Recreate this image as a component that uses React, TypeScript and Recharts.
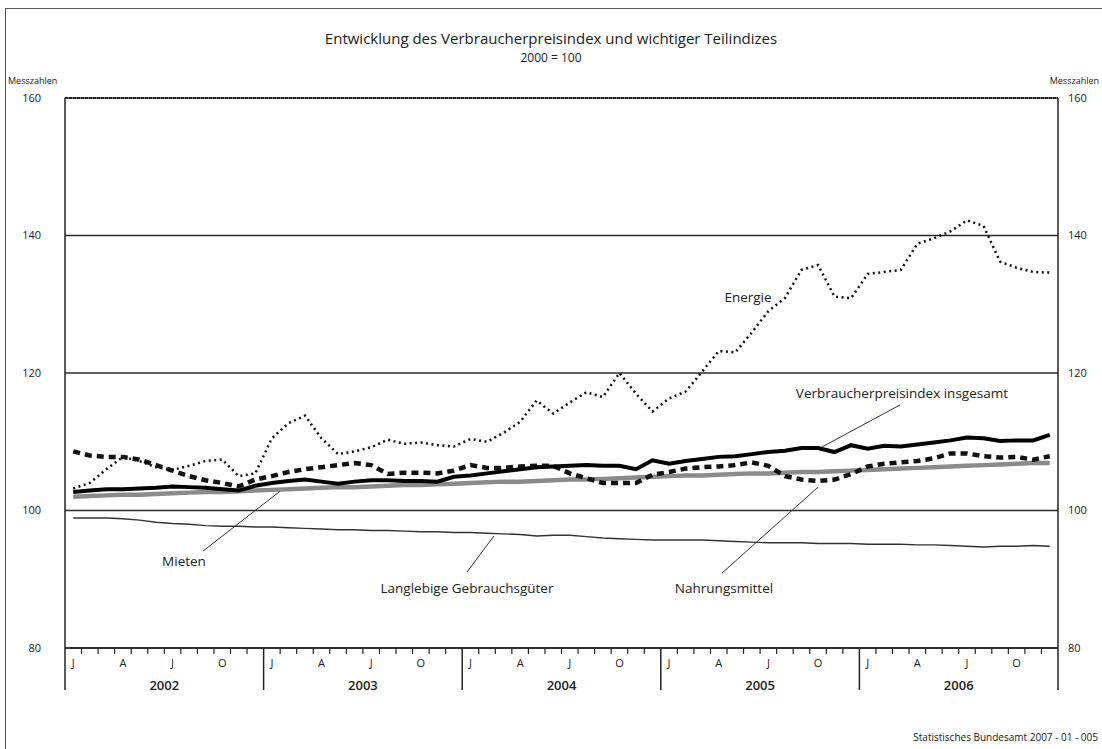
import React from 'react';
import { LineChart, Line, XAxis, YAxis, CartesianGrid, ReferenceLine, ReferenceDot } from 'recharts';

// Monatswerte Januar 2002 bis Dezember 2006, 2000 = 100
const years = ['2002', '2003', '2004', '2005', '2006'];
const quarterLetters = ['J', 'A', 'J', 'O'];
const yTicks = [80, 100, 120, 140, 160];

const energie = [
  103.2, 104.0, 106.0, 107.8, 107.2, 106.3, 105.9, 106.5, 107.2, 107.4, 105.0, 105.4,
  110.5, 112.7, 113.8, 110.5, 108.2, 108.6, 109.2, 110.3, 109.7, 109.9, 109.5, 109.3,
  110.4, 110.0, 111.3, 112.9, 116.0, 114.1, 115.7, 117.2, 116.5, 120.0, 117.0, 114.4,
  116.3, 117.3, 120.2, 123.2, 123.0, 125.9, 129.0, 130.9, 135.0, 135.7, 131.1, 130.9,
  134.4, 134.7, 135.0, 138.8, 139.6, 140.6, 142.2, 141.4, 136.2, 135.3, 134.7, 134.6,
];

const vpi = [
  102.7, 102.9, 103.1, 103.1, 103.2, 103.3, 103.5, 103.4, 103.3, 103.1, 102.9, 103.6,
  104.0, 104.3, 104.5, 104.2, 103.9, 104.2, 104.4, 104.4, 104.3, 104.3, 104.2, 104.9,
  105.1, 105.4, 105.7, 106.0, 106.3, 106.4, 106.5, 106.6, 106.5, 106.5, 106.0, 107.3,
  106.8, 107.2, 107.5, 107.8, 107.9, 108.2, 108.5, 108.7, 109.1, 109.1, 108.5, 109.5,
  109.0, 109.4, 109.3, 109.6, 109.9, 110.2, 110.6, 110.5, 110.1, 110.2, 110.2, 111.0,
];

const nahrung = [
  108.6, 108.0, 107.8, 107.8, 107.4, 106.6, 105.8, 105.0, 104.4, 104.0, 103.5, 104.5,
  105.0, 105.6, 106.0, 106.3, 106.6, 106.9, 106.6, 105.3, 105.5, 105.5, 105.4, 105.8,
  106.6, 106.2, 106.2, 106.4, 106.5, 106.5, 105.4, 104.7, 104.0, 104.0, 104.0, 105.2,
  105.6, 106.1, 106.3, 106.4, 106.6, 107.0, 106.5, 105.0, 104.5, 104.3, 104.5, 105.3,
  106.4, 106.8, 107.0, 107.2, 107.6, 108.3, 108.3, 107.9, 107.7, 107.8, 107.4, 107.9,
];

const mieten = [
  102.0, 102.1, 102.2, 102.3, 102.3, 102.4, 102.5, 102.6, 102.7, 102.7, 102.8, 102.9,
  103.0, 103.1, 103.2, 103.3, 103.4, 103.4, 103.5, 103.6, 103.7, 103.7, 103.8, 103.9,
  104.0, 104.1, 104.2, 104.2, 104.3, 104.4, 104.5, 104.5, 104.6, 104.7, 104.8, 104.9,
  105.0, 105.1, 105.1, 105.2, 105.3, 105.4, 105.4, 105.5, 105.6, 105.6, 105.7, 105.8,
  105.9, 106.0, 106.1, 106.2, 106.3, 106.4, 106.5, 106.6, 106.7, 106.8, 106.9, 106.9,
];

const langlebig = [
  98.9, 98.9, 98.9, 98.8, 98.6, 98.3, 98.1, 98.0, 97.8, 97.7, 97.7, 97.6,
  97.6, 97.5, 97.4, 97.3, 97.2, 97.2, 97.1, 97.1, 97.0, 96.9, 96.9, 96.8,
  96.8, 96.7, 96.6, 96.5, 96.3, 96.4, 96.4, 96.2, 96.0, 95.9, 95.8, 95.7,
  95.7, 95.7, 95.7, 95.6, 95.5, 95.4, 95.3, 95.3, 95.3, 95.2, 95.2, 95.2,
  95.1, 95.1, 95.1, 95.0, 95.0, 94.9, 94.8, 94.7, 94.8, 94.8, 94.9, 94.8,
];

// each month sits in the middle of its slot on a 0..60 axis
const data = energie.map((v, i) => ({
  t: i + 0.5,
  energie: v,
  vpi: vpi[i],
  nahrung: nahrung[i],
  mieten: mieten[i],
  langlebig: langlebig[i],
}));

const xTicks: number[] = [];
for (let m = 0; m <= 60; m++) {
  xTicks.push(m);
  if (m < 60 && m % 3 === 0) xTicks.push(m + 0.5);
}

const FONT = "'Open Sans', 'DejaVu Sans', sans-serif";
const INK = '#222';

const MonthTick = (props: any) => {
  const { x, y, payload } = props;
  const v = payload.value;
  if (v % 1 !== 0) {
    const m = Math.floor(v) % 12;
    return (
      <text x={x} y={y + 19} textAnchor="middle" fontSize={11} fill={INK} fontFamily={FONT}>
        {quarterLetters[m / 3]}
      </text>
    );
  }
  const isYear = v % 12 === 0;
  return (
    <g>
      <line x1={x} x2={x} y1={y} y2={y + (isYear ? 42 : 6)} stroke={INK} strokeWidth={isYear ? 1.5 : 1.2} />
      {v % 12 === 6 && (
        <text x={x} y={y + 42} textAnchor="middle" fontSize={13} fontWeight={600} fill={INK} fontFamily={FONT}>
          {years[(v - 6) / 12]}
        </text>
      )}
    </g>
  );
};

const labelShape = (text: string) => (p: any) => (
  <text x={p.cx} y={p.cy} textAnchor="middle" dominantBaseline="central" fontSize={13.5} fill={INK} fontFamily={FONT}>
    {text}
  </text>
);

const leader = (a: [number, number], b: [number, number]) => (
  <ReferenceLine
    yAxisId="left"
    segment={[{ x: a[0], y: a[1] }, { x: b[0], y: b[1] }]}
    stroke="#333"
    strokeWidth={1}
  />
);

export default function App() {
  return (
    <div style={{ position: 'absolute', left: 0, top: 0, width: 1102, height: 749, background: '#fff', fontFamily: FONT, color: INK }}>
      <div style={{ position: 'absolute', left: 5, top: 8, right: 0, bottom: 0, borderTop: '1.5px solid #555', borderLeft: '1.5px solid #555' }} />
      <div style={{ position: 'absolute', left: 0, width: 1102, top: 29, lineHeight: '18px', textAlign: 'center', fontSize: 15 }}>
        Entwicklung des Verbraucherpreisindex und wichtiger Teilindizes
      </div>
      <div style={{ position: 'absolute', left: 0, width: 1102, top: 51, lineHeight: '13px', textAlign: 'center', fontSize: 12 }}>
        2000 = 100
      </div>
      <div style={{ position: 'absolute', left: 8, top: 74, fontSize: 9 }}>Messzahlen</div>
      <div style={{ position: 'absolute', right: 3, top: 74, fontSize: 9 }}>Messzahlen</div>
      <div style={{ position: 'absolute', right: 4, top: 730, fontSize: 10 }}>Statistisches Bundesamt 2007 - 01 - 005</div>

      <div style={{ position: 'absolute', left: 0, top: 0 }}>
        <LineChart width={1102} height={749} data={data} margin={{ top: 98, right: 4, bottom: 51, left: 5 }}>
          <CartesianGrid yAxisId="left" vertical={false} stroke="#2a2a2a" strokeWidth={1.3} />
          <XAxis
            type="number"
            dataKey="t"
            domain={[0, 60]}
            ticks={xTicks}
            interval={0}
            height={50}
            tickSize={0}
            tickMargin={0}
            tickLine={false}
            axisLine={{ stroke: INK, strokeWidth: 1.5 }}
            tick={<MonthTick />}
          />
          <YAxis
            yAxisId="left"
            domain={[80, 160]}
            ticks={yTicks}
            width={60}
            axisLine={false}
            tickLine={false}
            tickSize={0}
            tickMargin={24}
            tick={{ fontSize: 11, fill: INK, fontFamily: FONT }}
          />
          <YAxis
            yAxisId="right"
            orientation="right"
            domain={[80, 160]}
            ticks={yTicks}
            width={40}
            axisLine={false}
            tickLine={false}
            tickSize={0}
            tickMargin={10}
            tick={{ fontSize: 11, fill: INK, fontFamily: FONT }}
          />
          <ReferenceLine yAxisId="left" x={0} stroke={INK} strokeWidth={1.5} />
          <ReferenceLine yAxisId="left" x={60} stroke={INK} strokeWidth={1.5} />
          <ReferenceLine yAxisId="left" y={160} stroke={INK} strokeWidth={2} strokeDasharray="3 1" />

          {/* right axis carries the same 80..160 scale, so this series lands in the same place */}
          <Line yAxisId="right" type="linear" dataKey="langlebig" stroke="#333" strokeWidth={1.4} dot={false} isAnimationActive={false} />
          <Line yAxisId="left" type="linear" dataKey="mieten" stroke="#8a8a8a" strokeWidth={4.5} dot={false} isAnimationActive={false} />
          <Line yAxisId="left" type="linear" dataKey="nahrung" stroke="#111" strokeWidth={4.5} strokeDasharray="7 5" dot={false} isAnimationActive={false} />
          <Line yAxisId="left" type="linear" dataKey="vpi" stroke="#000" strokeWidth={4} dot={false} isAnimationActive={false} />
          <Line yAxisId="left" type="linear" dataKey="energie" stroke="#111" strokeWidth={2.5} strokeDasharray="2 3.5" dot={false} isAnimationActive={false} />

          {leader([50.45, 115.35], [45.74, 109.24])}
          {leader([8.34, 94.1], [12.99, 102.8])}
          {leader([24.29, 91.05], [25.92, 96.3])}
          {leader([39.7, 90.9], [45.5, 103.4])}

          <ReferenceDot yAxisId="left" x={41.27} y={131.05} r={0} shape={labelShape('Energie')} />
          <ReferenceDot yAxisId="left" x={50.57} y={117.1} r={0} shape={labelShape('Verbraucherpreisindex insgesamt')} />
          <ReferenceDot yAxisId="left" x={7.19} y={92.65} r={0} shape={labelShape('Mieten')} />
          <ReferenceDot yAxisId="left" x={24.29} y={88.73} r={0} shape={labelShape('Langlebige Gebrauchsgüter')} />
          <ReferenceDot yAxisId="left" x={39.82} y={88.73} r={0} shape={labelShape('Nahrungsmittel')} />
        </LineChart>
      </div>
    </div>
  );
}
